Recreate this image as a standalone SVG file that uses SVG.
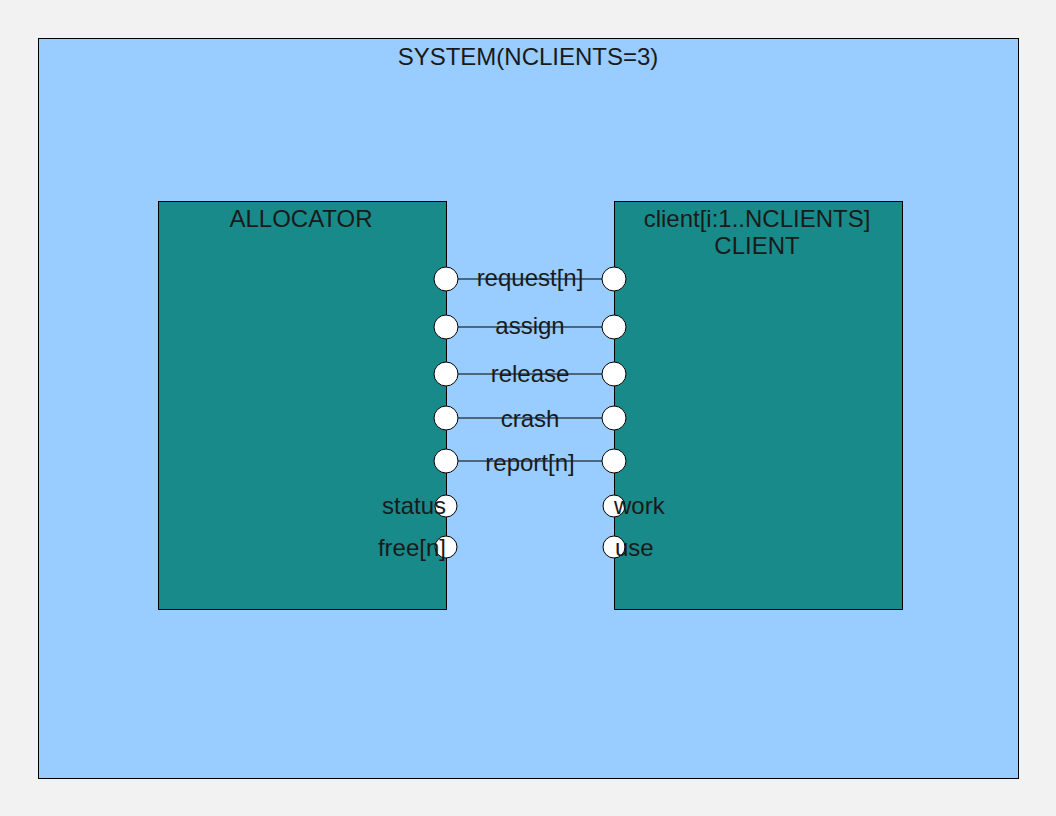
<svg xmlns="http://www.w3.org/2000/svg" width="1056" height="816" viewBox="0 0 1056 816">
<style>
text{font-family:"Liberation Sans",Arial,sans-serif;font-size:24px;fill:#1a1a1a}
.box{fill:#198a8a;stroke:#000;stroke-width:1}
.port{fill:#fff;stroke:#000;stroke-width:1}
.conn{stroke:#000;stroke-width:1;fill:none}
.c{text-anchor:middle}
</style>
<rect x="0" y="0" width="1056" height="816" fill="#f2f2f2"/>
<g id="system">
<rect x="38.5" y="38.5" width="980" height="740" fill="#99ccff" stroke="#000"/>
<text class="c" x="528" y="65">SYSTEM(NCLIENTS=3)</text>
</g>
<g id="allocator">
<rect class="box" x="158.5" y="201.5" width="288" height="408"/>
<text class="c" x="301" y="227">ALLOCATOR</text>
</g>
<g id="client">
<rect class="box" x="614.5" y="201.5" width="288" height="408"/>
<text class="c" x="757" y="227">client[i:1..NCLIENTS]</text>
<text class="c" x="757" y="254">CLIENT</text>
</g>
<g id="connectors">
<line class="conn" x1="458" y1="279" x2="602" y2="279"/>
<line class="conn" x1="458" y1="327" x2="602" y2="327"/>
<line class="conn" x1="458" y1="374" x2="602" y2="374"/>
<line class="conn" x1="458" y1="418" x2="602" y2="418"/>
<line class="conn" x1="458" y1="461" x2="602" y2="461"/>
</g>
<g id="ports">
<circle class="port" cx="446" cy="279" r="12"/>
<circle class="port" cx="614" cy="279" r="12"/>
<circle class="port" cx="446" cy="327" r="12"/>
<circle class="port" cx="614" cy="327" r="12"/>
<circle class="port" cx="446" cy="374" r="12"/>
<circle class="port" cx="614" cy="374" r="12"/>
<circle class="port" cx="446" cy="418" r="12"/>
<circle class="port" cx="614" cy="418" r="12"/>
<circle class="port" cx="446" cy="461" r="12"/>
<circle class="port" cx="614" cy="461" r="12"/>
<circle class="port" cx="446" cy="506" r="11"/>
<circle class="port" cx="614" cy="506" r="11"/>
<circle class="port" cx="446" cy="547" r="11"/>
<circle class="port" cx="614" cy="547" r="11"/>
</g>
<g id="labels">
<text class="c" x="530" y="286">request[n]</text>
<text class="c" x="530" y="334">assign</text>
<text class="c" x="530" y="382">release</text>
<text class="c" x="530" y="427">crash</text>
<text class="c" x="530" y="471">report[n]</text>
<text x="446" y="514" text-anchor="end">status</text>
<text x="446" y="556" text-anchor="end">free[n]</text>
<text x="614" y="514">work</text>
<text x="615" y="556">use</text>
</g>
</svg>
